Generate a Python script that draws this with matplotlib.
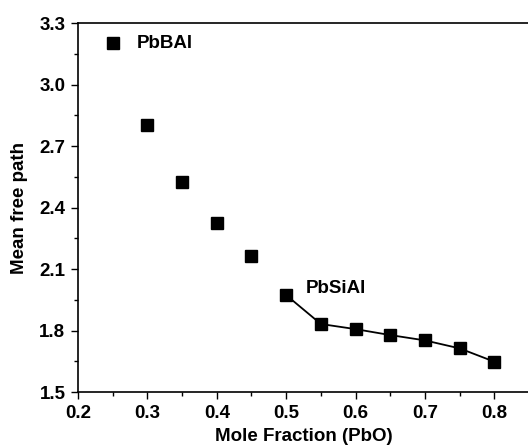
import matplotlib
matplotlib.use("Agg")
import matplotlib.pyplot as plt
from matplotlib.ticker import MultipleLocator

plt.rcParams['font.family'] = ['Liberation Sans', 'DejaVu Sans']

x_pbbal = [0.25, 0.30, 0.35, 0.40, 0.45]
y_pbbal = [3.204, 2.801, 2.523, 2.324, 2.163]
x_pbsial = [0.50, 0.55, 0.60, 0.65, 0.70, 0.75, 0.80]
y_pbsial = [1.973, 1.832, 1.807, 1.778, 1.752, 1.713, 1.648]

fig = plt.figure(figsize=(5.28, 4.45), dpi=100)
ax = fig.add_axes([0.1477, 0.119, 0.8543, 0.829])

ax.plot(x_pbbal, y_pbbal, linestyle='none', marker='s', color='black', markersize=8)
ax.plot(x_pbsial, y_pbsial, linestyle='-', linewidth=1.3, marker='s', color='black', markersize=8)

ax.text(0.285, 3.2, 'PbBAl', fontsize=13.5, fontweight='bold', va='center', ha='left')
ax.text(0.528, 2.007, 'PbSiAl', fontsize=13.5, fontweight='bold', va='center', ha='left')

ax.set_xlim(0.2, 0.85)
ax.set_ylim(1.5, 3.3)
ax.xaxis.set_minor_locator(MultipleLocator(0.05))
ax.yaxis.set_minor_locator(MultipleLocator(0.15))
ax.set_xticks([0.2, 0.3, 0.4, 0.5, 0.6, 0.7, 0.8])
ax.set_xticklabels(['0.2', '0.3', '0.4', '0.5', '0.6', '0.7', '0.8'])
ax.set_yticks([1.5, 1.8, 2.1, 2.4, 2.7, 3.0, 3.3])
ax.set_yticklabels(['1.5', '1.8', '2.1', '2.4', '2.7', '3.0', '3.3'])

ax.tick_params(which='both', direction='out', width=1.0)
ax.tick_params(which='major', length=5, labelsize=13.5, pad=4)
ax.tick_params(which='minor', length=3)
for lab in ax.get_xticklabels() + ax.get_yticklabels():
    lab.set_fontweight('bold')
for s in ax.spines.values():
    s.set_linewidth(1.2)

ax.set_xlabel('Mole Fraction (PbO)', fontsize=13.5, fontweight='bold', labelpad=5)
ax.set_ylabel('Mean free path', fontsize=13.5, fontweight='bold', labelpad=8)

fig.savefig('out.png', dpi=100)
